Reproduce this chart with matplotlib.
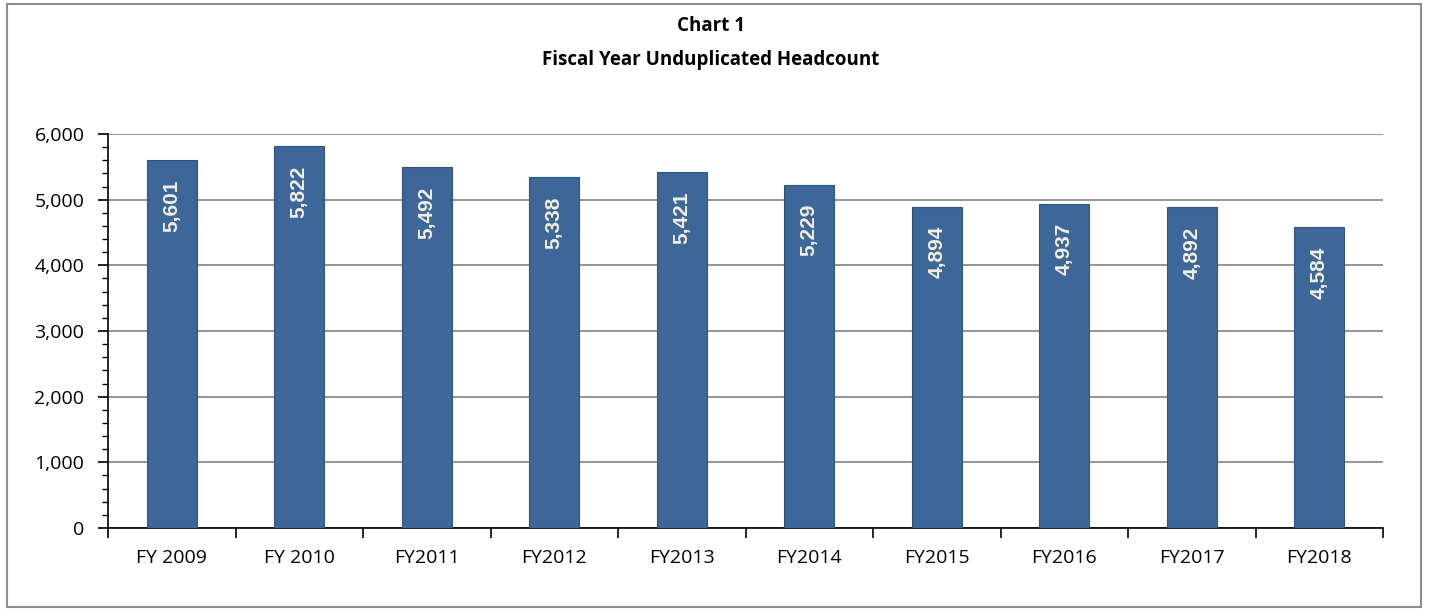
import matplotlib.pyplot as plt
from matplotlib.patches import Rectangle
from matplotlib.ticker import MultipleLocator, FuncFormatter
import numpy as np

# Dados do gráfico
categories = ['FY 2009', 'FY 2010', 'FY2011', 'FY2012', 'FY2013',
              'FY2014', 'FY2015', 'FY2016', 'FY2017', 'FY2018']
headcount = [5601, 5822, 5492, 5338, 5421, 5229, 4894, 4937, 4892, 4584]

plt.rcParams['font.family'] = ['Open Sans', 'DejaVu Sans']

fig = plt.figure(figsize=(14.29, 6.11), dpi=100)

# moldura externa
fig.patches.append(Rectangle((7/1429, 4/611), 1414/1429, 603/611, transform=fig.transFigure,
                             fill=False, edgecolor='#8c8c8c', linewidth=1.5))

ax = fig.add_axes([108/1429, 83/611, 1275/1429, 394/611])

x = np.arange(len(categories))
bars = ax.bar(x, headcount, 0.39, color='#3d6699', edgecolor='#2f5480', linewidth=0.8, zorder=3)

for xi, v in zip(x, headcount):
    ax.annotate('{:,}'.format(v), (xi, v), textcoords='offset points', xytext=(0, -14),
                ha='center', va='top', rotation=90, color='#f2f0e0', fontsize=15,
                fontweight='bold', family='Liberation Sans', zorder=4)

ax.set_xlim(-0.5, len(categories) - 0.5)
ax.set_ylim(0, 6000)
ax.yaxis.set_major_locator(MultipleLocator(1000))
ax.yaxis.set_minor_locator(MultipleLocator(200))
ax.yaxis.set_major_formatter(FuncFormatter(lambda v, p: '{:,.0f}'.format(v)))
ax.grid(axis='y', color='#8c8c8c', linewidth=1.3, zorder=0)

ax.set_xticks(x)
ax.set_xticklabels(categories, fontsize=14)
ax.set_xticks(np.arange(len(categories) + 1) - 0.5, minor=True)
ax.tick_params(axis='x', which='major', length=0, pad=15)
ax.tick_params(axis='x', which='minor', length=7, width=1.2, direction='out')
ax.tick_params(axis='y', which='major', length=7, width=1.2, labelsize=14, pad=10)
ax.tick_params(axis='y', which='minor', length=4, width=1.0)

for s in ['top', 'right']:
    ax.spines[s].set_visible(False)
ax.spines['left'].set_linewidth(1.2)
ax.spines['bottom'].set_linewidth(1.2)

fig.text(711/1429, 1 - 26/611, 'Chart 1', ha='center', va='center', fontsize=13.5, fontweight='bold')
fig.text(711/1429, 1 - 60/611, 'Fiscal Year Unduplicated Headcount', ha='center', va='center',
         fontsize=13.5, fontweight='bold')

fig.savefig('out.png', dpi=100)
